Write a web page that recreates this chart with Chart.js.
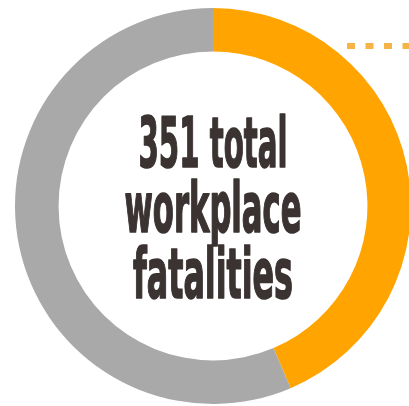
<!DOCTYPE html>
<html>
<head>
<meta charset="utf-8">
<script src="https://cdn.jsdelivr.net/npm/chart.js@4/dist/chart.umd.min.js"></script>
<style>
  html, body { margin: 0; padding: 0; background: #fff; overflow: hidden; }
  #wrap { width: 420px; height: 406px; }
</style>
</head>
<body>
<div id="wrap"><canvas id="donut" width="420" height="406"></canvas></div>
<script>
const categories = ['Highlighted fatalities', 'Other fatalities'];
const fatalities = [153, 198];
const sliceColors = ['#FFA400', '#A9A9A9'];
const centerLines = ['351 total', 'workplace', 'fatalities'];

// center label + dotted leader line
const centerText = {
  id: 'centerText',
  afterDraw(chart) {
    const { ctx } = chart;
    const meta = chart.getDatasetMeta(0).data[0];
    const cx = meta.x, cy = meta.y;

    ctx.save();
    ctx.fillStyle = '#3b3232';
    ctx.strokeStyle = '#3b3232';
    ctx.lineWidth = 1.6;
    ctx.lineJoin = 'round';
    ctx.font = 'bold 69px "DejaVu Sans Condensed", "DejaVu Sans", sans-serif';
    ctx.textAlign = 'center';
    ctx.textBaseline = 'alphabetic';
    const widths = [149, 177, 160];
    const baselines = [-39, 26, 92];
    centerLines.forEach((line, i) => {
      const w = ctx.measureText(line).width;
      ctx.save();
      ctx.translate(cx, cy + baselines[i]);
      ctx.scale(widths[i] / w, 1);
      ctx.fillText(line, 0, 0);
      ctx.strokeText(line, 0, 0);
      ctx.restore();
    });

    ctx.fillStyle = '#F6B347';
    for (let x = 347; x < 420; x += 18.5) {
      ctx.fillRect(x, 43, 8, 6);
    }
    ctx.restore();
  }
};

new Chart(document.getElementById('donut'), {
  type: 'doughnut',
  data: {
    labels: categories,
    datasets: [{
      data: fatalities,
      backgroundColor: sliceColors,
      borderWidth: 0
    }]
  },
  options: {
    responsive: false,
    animation: false,
    cutout: '78%',
    layout: { padding: { left: 15, top: 8, right: 9, bottom: 2 } },
    plugins: {
      legend: { display: false },
      tooltip: { enabled: false }
    }
  },
  plugins: [centerText]
});
</script>
</body>
</html>
